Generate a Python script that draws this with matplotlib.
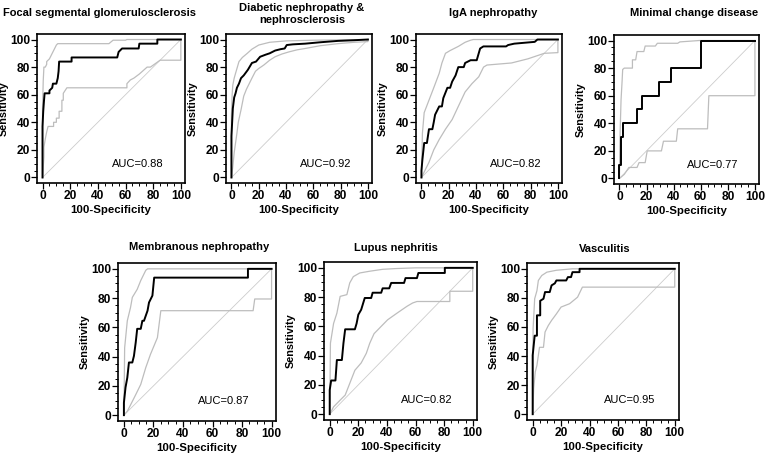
import matplotlib
matplotlib.use("Agg")
import matplotlib.pyplot as plt
from matplotlib.ticker import MultipleLocator

plt.rcParams['font.family'] = ['Liberation Sans', 'DejaVu Sans']

# ---- data (100-specificity, sensitivity) ----
titles = ["Focal segmental glomerulosclerosis",
          "Diabetic nephropathy &\nnephrosclerosis",
          "IgA nephropathy",
          "Minimal change disease",
          "Membranous nephropathy",
          "Lupus nephritis",
          "Vasculitis"]
auc = [0.88, 0.92, 0.82, 0.77, 0.87, 0.82, 0.95]

fsgs_x = [0, 0, 0.5, 1, 1.5, 5, 5, 7, 7.5, 10, 11, 11.6, 12, 21, 21, 54, 55, 57.5, 69.5, 70, 83, 83, 100]
fsgs_y = [0, 37, 48, 55, 61, 61, 63, 65, 68, 68, 72, 77, 84, 84, 87, 87, 91, 93.5, 93.5, 97, 97, 100, 100]
fsgs_up_x = [0, 0, 0.5, 1, 2, 3, 3, 5, 6, 7, 8, 9, 10, 11, 13, 48, 51, 60, 61, 100]
fsgs_up_y = [0, 50, 70, 80, 80, 82, 84, 86, 88, 90, 92, 94, 96, 97, 97, 97, 99.5, 99.5, 100, 100]
fsgs_lo_x = [0, 1, 1, 2, 3, 4, 8, 8, 10, 10, 12, 12, 14, 14, 15, 15, 17.6, 61, 61, 63.5, 66, 70, 75.6, 78, 85, 85, 100, 100]
fsgs_lo_y = [0, 15, 22, 28, 33, 37, 37, 40, 40, 43, 43, 48, 48, 56, 56, 61, 65, 65, 68, 70.7, 72, 75, 80, 80, 85, 85, 85, 100]

dn_x = [0, 0, 0.5, 1, 2, 3, 4, 5.5, 7, 9, 12, 15, 18, 21, 25, 28, 32, 36, 39, 40.5, 45, 54, 65, 78, 90, 100]
dn_y = [0, 30, 40, 50, 58, 61, 65, 68, 72, 74, 78, 83, 84, 87.5, 89, 90, 92, 93, 93.5, 96, 96.5, 97, 98, 99, 99.5, 100]
dn_up_x = [0, 0, 0.5, 1, 2, 3, 5.5, 8, 11.6, 15, 20, 28, 40, 60, 100]
dn_up_y = [0, 45, 60, 67, 72, 75.5, 84, 87, 90, 93, 96, 98, 99, 99.5, 100]
dn_lo_x = [0, 1, 2, 3, 4, 5, 7, 9, 11, 13, 15, 17.6, 20, 23.7, 28, 32, 37, 42, 48, 54, 65, 78, 90, 100, 100]
dn_lo_y = [0, 8, 18, 25, 32, 40, 49, 59, 64, 68, 72, 77, 79, 81.5, 85, 87.5, 89.5, 91, 92.5, 93.5, 95.5, 97, 98, 98.5, 100]

iga_x = [0, 0, 0.7, 2, 4, 5.5, 8, 9, 10, 13, 15, 16, 19, 21, 22.5, 25, 27, 31, 32, 36, 40.5, 43, 45.4, 62, 63.5, 68, 83, 85, 100]
iga_y = [0, 5, 13, 25, 25, 35, 35, 40, 45.5, 51.5, 51.5, 57.5, 65, 65, 69.5, 74, 80, 80, 83, 85, 85, 93.5, 95, 95, 96, 97, 98.3, 100, 100]
iga_up_x = [0, 0.7, 2, 5.5, 9, 13, 15, 17.6, 21, 27, 32, 36, 38, 100]
iga_up_y = [0, 32, 47, 56, 65, 75.5, 83, 90, 92, 95, 98, 99.5, 100, 100]
iga_lo_x = [0, 3, 5.5, 9, 13, 17.6, 22.5, 27, 32, 37, 42, 45.5, 48, 66, 78, 90, 100, 100]
iga_lo_y = [0, 6, 11, 20, 27.5, 35, 42, 51.5, 62, 68, 73, 80, 81.5, 83, 86, 90, 90.5, 100]

mcd_x = [0, 0, 1, 1, 3, 3, 13, 13, 17, 17, 29, 29, 38, 38, 60, 60, 100]
mcd_y = [0, 10, 10, 30, 30, 40, 40, 50, 50, 60, 60, 70, 70, 80, 80, 100, 100]
mcd_up_x = [0, 0.5, 1.2, 2, 2.4, 3.6, 9.6, 9.6, 12, 13, 18, 19, 26.5, 28, 43, 44.6, 59, 100]
mcd_up_y = [0, 33, 57, 71, 79, 80, 80, 86, 86, 92, 92, 96, 96, 98, 98, 99, 100, 100]
mcd_lo_x = [0, 3.6, 7, 13, 14.5, 19, 20.5, 31, 32.5, 42, 43, 65, 66, 100, 100]
mcd_lo_y = [0, 3, 8, 8, 11.5, 11.5, 20, 20, 27, 27, 36, 36, 60, 60, 100]

mn_x = [0, 0, 1.1, 2.3, 3.4, 5.7, 6.8, 8, 9, 11.4, 12.5, 13.6, 16, 17, 19.3, 20.5, 84, 84, 100]
mn_y = [0, 8.5, 19, 25.6, 36, 36, 40.5, 49.7, 59, 59, 64.5, 64.5, 71.4, 77, 81.7, 94, 94, 100, 100]
mn_up_x = [0, 0.5, 2.3, 4.5, 5.7, 9, 11.4, 14.8, 16, 100]
mn_up_y = [0, 46, 64.5, 73.7, 80.5, 86, 92, 99, 100, 100]
mn_lo_x = [0, 2.3, 4.5, 8, 11.4, 14.8, 18, 22.7, 25, 87.5, 88.6, 100, 100]
mn_lo_y = [0, 2.7, 7, 14, 21, 32.5, 41.6, 53, 71.4, 71.4, 79.4, 79.4, 100]

ln_x = [0, 0, 1, 4, 5, 8.5, 9.6, 10.8, 17.6, 18.8, 20, 22, 24.5, 29, 30, 36, 37, 41.6, 43, 52, 53, 61, 62, 80.5, 80.5, 100]
ln_y = [0, 16.5, 23, 23, 37, 37, 48.5, 58, 58, 62, 68, 71.4, 79.4, 79.4, 83, 83, 86, 86, 89.7, 89.7, 93, 93, 96.5, 96.5, 100, 100]
ln_up_x = [0, 0.5, 2.7, 5, 7.3, 12, 14, 16.5, 21, 28, 37, 46, 60, 100]
ln_up_y = [0, 48.5, 62, 69, 80.5, 81.7, 89.7, 94, 96.5, 97.7, 99, 99.5, 100, 100]
ln_lo_x = [0, 2.7, 7.3, 10.8, 14, 17.6, 22, 25.6, 28, 31, 36, 40.5, 47, 54, 58, 61, 84, 84, 100, 100]
ln_lo_y = [0, 5, 9.6, 13, 21, 30, 35, 41.6, 48.5, 55, 60, 64.5, 69, 73.7, 76, 77, 77, 84, 84, 100]

vas_x = [0, 0, 1.4, 3, 3, 5.3, 5.3, 7.6, 8.7, 12, 13.3, 15.6, 16.7, 23.6, 24.8, 27, 28, 33, 33, 100]
vas_y = [0, 40.5, 54, 54, 68, 68, 78, 79.4, 84, 84, 88.6, 90, 92, 92, 94.3, 94.3, 97.7, 97.7, 100, 100]
vas_up_x = [0, 0.3, 1.4, 3, 4, 6.4, 10, 16.7, 28, 100]
vas_up_y = [0, 59, 79.4, 85, 92, 95.4, 97.7, 99, 100, 100]
vas_lo_x = [0, 0.7, 1.8, 3, 4.8, 7.6, 8.7, 11, 13.3, 16.7, 20, 26, 31.6, 35, 100, 100]
vas_lo_y = [0, 17.6, 29, 33.6, 46, 46, 56.5, 61, 64.5, 69, 73.7, 76, 80.5, 87.4, 87.4, 100]

curves = [
    (fsgs_x, fsgs_y, fsgs_up_x, fsgs_up_y, fsgs_lo_x, fsgs_lo_y),
    (dn_x, dn_y, dn_up_x, dn_up_y, dn_lo_x, dn_lo_y),
    (iga_x, iga_y, iga_up_x, iga_up_y, iga_lo_x, iga_lo_y),
    (mcd_x, mcd_y, mcd_up_x, mcd_up_y, mcd_lo_x, mcd_lo_y),
    (mn_x, mn_y, mn_up_x, mn_up_y, mn_lo_x, mn_lo_y),
    (ln_x, ln_y, ln_up_x, ln_up_y, ln_lo_x, ln_lo_y),
    (vas_x, vas_y, vas_up_x, vas_up_y, vas_lo_x, vas_lo_y),
]

W, H = 769, 455
# axes boxes in pixels: left, top, right, bottom
boxes = [(37, 34, 185, 183), (226, 34, 372, 183), (416, 34, 562, 183), (614, 35, 759, 184),
         (118, 263, 276, 421), (324, 262, 477, 420), (527, 263, 679, 420)]
title_pos = [(99.5, 13), (302, 14), (493, 13), (694.5, 13), (199.5, 247), (396, 248), (605, 249)]

fig = plt.figure(figsize=(W / 100, H / 100), dpi=100)

for i, (l, t, r, b) in enumerate(boxes):
    ax = fig.add_axes([l / W, 1 - b / H, (r - l) / W, (b - t) / H])
    x, y, ux, uy, lx, ly = curves[i]
    ax.plot([0, 100], [0, 100], color='#cccccc', lw=0.6)
    ax.plot(ux, uy, color='#bdbdbd', lw=0.9)
    ax.plot(lx, ly, color='#bdbdbd', lw=0.9)
    ax.plot(x, y, color='black', lw=1.4)
    ax.set_xlim(-4, 103)
    ax.set_ylim(-4, 104)
    ax.xaxis.set_major_locator(MultipleLocator(20))
    ax.yaxis.set_major_locator(MultipleLocator(20))
    ax.xaxis.set_minor_locator(MultipleLocator(5))
    ax.yaxis.set_minor_locator(MultipleLocator(5))
    ax.tick_params(which='major', direction='out', length=4, width=0.9, pad=1, labelsize=8.6)
    ax.tick_params(which='minor', direction='out', length=2, width=0.7)
    for lab in ax.get_xticklabels() + ax.get_yticklabels():
        lab.set_fontweight('bold')
    for s in ax.spines.values():
        s.set_linewidth(1.2)
    ax.set_xlabel('100-Specificity', fontsize=8.2, fontweight='bold', labelpad=2)
    ax.set_ylabel('Sensitivity', fontsize=7.8, fontweight='bold', labelpad=1)
    ax.text(50, 10, 'AUC=%.2f' % auc[i], fontsize=8, ha='left', va='center')
    tx, ty = title_pos[i]
    fig.text(tx / W, 1 - ty / H, titles[i], fontsize=8, fontweight='bold',
             ha='center', va='center', linespacing=1.3)

fig.savefig('out.png', dpi=100)
